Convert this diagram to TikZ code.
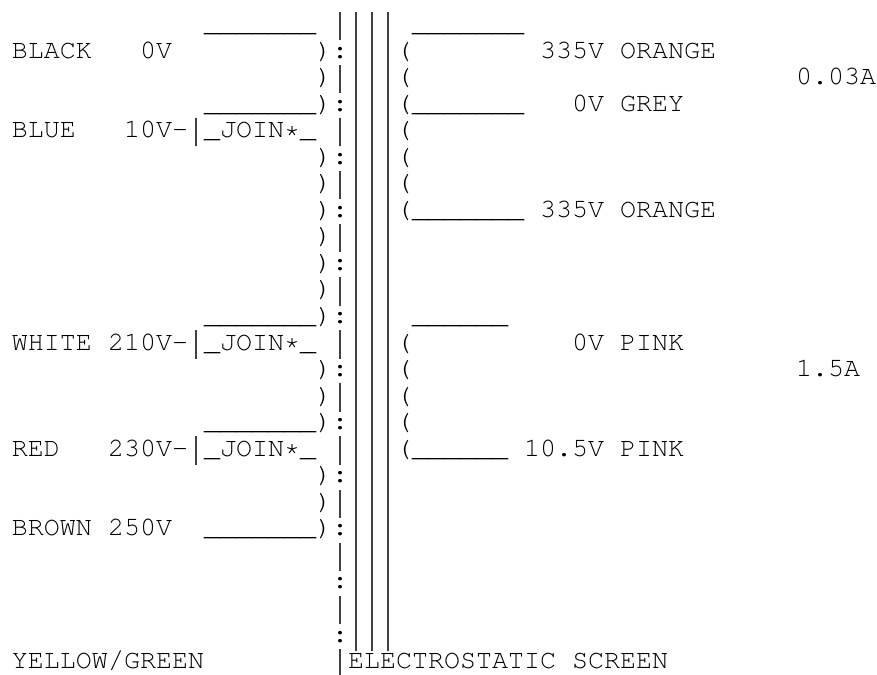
\documentclass[tikz,border=0pt]{standalone}
\usepackage[T1]{fontenc}
\usepackage{tikz}
\newcommand{\asciifont}{\fontfamily{pcr}\fontseries{m}\fontshape{n}\fontsize{20}{20}\selectfont}
\newcommand{\leadseven}{\_\_\_\_\_\_\_}
\newcommand{\leadsix}{\_\_\_\_\_\_}
% a bar as tall as the one of the reference font
\newcommand{\vb}{\makebox[12pt][c]{\color{black!75}\rule[-6.45pt]{0.8pt}{21.25pt}}}
\tikzstyle{asc} = [anchor=base west, inner sep=0pt, outer sep=0pt, font=\asciifont]

\begin{document}
\begin{tikzpicture}[x=12pt, y=-19.91pt]
    \fill[white] (-0.75,-1.185) rectangle (54.0625,24.204);
    \useasboundingbox (-0.75,-1.185) rectangle (54.0625,24.204);
    % core and screen
    \foreach \r in {0,2,...,24} \node[asc] (core\r) at (20,\r) {\vb};
    \foreach \r in {1,3,...,23} \node[asc] (core\r) at (20,\r) {:};
    \foreach \r in {0,...,23} \node[asc] (lam\r) at (21,\r) {\vb\vb\vb};
    % primary winding
    \foreach \r in {1,2,3,5,6,7,8,9,10,11,13,14,15,17,18,19} \node[asc] (pri\r) at (19,\r) {)};
    \foreach \r in {0,3,11,15,19} \node[asc] (pw\r) at (12,\r) {\leadseven};
    % secondary winding
    \foreach \r in {1,2,3,4,5,6,7,12,13,14,15,16} \node[asc] (sec\r) at (24,\r) {(};
    \foreach \r in {0,3,7} \node[asc] (sw\r) at (25,\r) {\leadseven};
    \foreach \r in {11,16} \node[asc] (sw\r) at (25,\r) {\leadsix};
    % primary taps
    \node[asc] (black) at (0,1) {BLACK};
    \node[asc] (blackv) at (8,1) {0V};
    \node[asc] (blue) at (0,4) {BLUE};
    \node[asc] (bluev) at (7,4) {10V-\vb\_JOIN*\_};
    \node[asc] (white) at (0,12) {WHITE};
    \node[asc] (whitev) at (6,12) {210V-\vb\_JOIN*\_};
    \node[asc] (red) at (0,16) {RED};
    \node[asc] (redv) at (6,16) {230V-\vb\_JOIN*\_};
    \node[asc] (brown) at (0,19) {BROWN};
    \node[asc] (brownv) at (6,19) {250V};
    \node[asc] (earth) at (0,24) {YELLOW/GREEN};
    % secondary taps
    \node[asc] (orangeA) at (33,1) {335V ORANGE};
    \node[asc] (htamp) at (49,2) {0.03A};
    \node[asc] (grey) at (35,3) {0V GREY};
    \node[asc] (orangeB) at (33,7) {335V ORANGE};
    \node[asc] (pinkA) at (35,12) {0V PINK};
    \node[asc] (ltamp) at (49,13) {1.5A};
    \node[asc] (pinkB) at (32,16) {10.5V PINK};
    \node[asc] (screen) at (21,24) {ELECTROSTATIC SCREEN};
\end{tikzpicture}
\end{document}
